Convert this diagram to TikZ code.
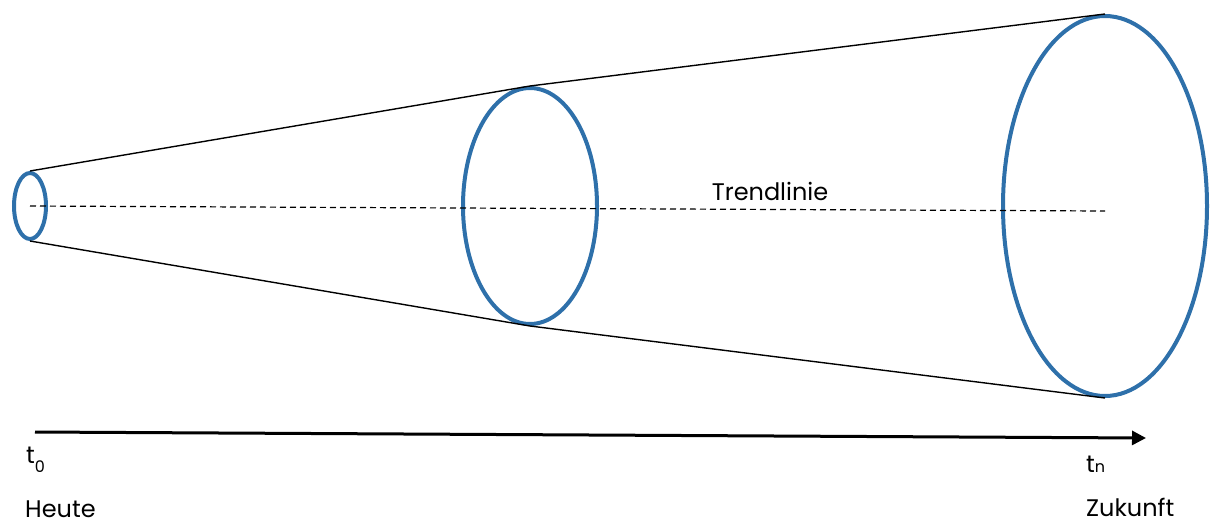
\documentclass[tikz,border=0pt]{standalone}
\usepackage{fontspec}
\setmainfont{Poppins}
\usetikzlibrary{arrows.meta,shapes.geometric}
\definecolor{ringblue}{RGB}{46,112,170}
\tikzset{
  ring/.style={draw=ringblue, line width=4pt, ellipse, inner sep=0pt},
  hull/.style={draw=black, line width=1.4pt},
  trend/.style={draw=black, line width=1.2pt, dash pattern=on 6pt off 4pt},
  timeaxis/.style={draw=black, line width=3pt, -{Triangle[length=14pt,width=14pt]}},
  lbl/.style={font=\fontsize{24}{28}\selectfont, inner sep=0pt, text depth=0pt},
}
\newcommand{\subsz}{\fontsize{16}{18}\selectfont}
\begin{document}
\begin{tikzpicture}[x=1pt,y=-1pt]
\useasboundingbox (0,0) rectangle (1221,523);
% rings
\node[ring, minimum width=32pt, minimum height=66pt] (e0) at (30,206) {};
\node[ring, minimum width=134pt, minimum height=236pt] (e1) at (530,206) {};
\node[ring, minimum width=204pt, minimum height=380pt] (e2) at (1105,206) {};
% hull lines
\draw[hull] (e0.north) -- (e1.north) -- (e2.north);
\draw[hull] (e0.south) -- (e1.south) -- (e2.south);
% trend line
\coordinate (tend) at (1105,211);
\draw[trend] (e0.center) -- (tend);
\node[lbl, anchor=base] (tl) at (770,200) {Trendlinie};
% time axis
\coordinate (a0) at (35,432);
\coordinate (a1) at (1146,438);
\draw[timeaxis] (a0) -- (a1);
\node[lbl, anchor=base west] (t0) at (26,463) {t\raisebox{-9pt}{\subsz 0}};
\node[lbl, anchor=base west] (tn) at (1086,472) {t{\subsz n}};
\node[lbl, anchor=base west] (heute) at (25,517) {Heute};
\node[lbl, anchor=base west] (zuk) at (1086,516) {Zukunft};
\end{tikzpicture}
\end{document}
